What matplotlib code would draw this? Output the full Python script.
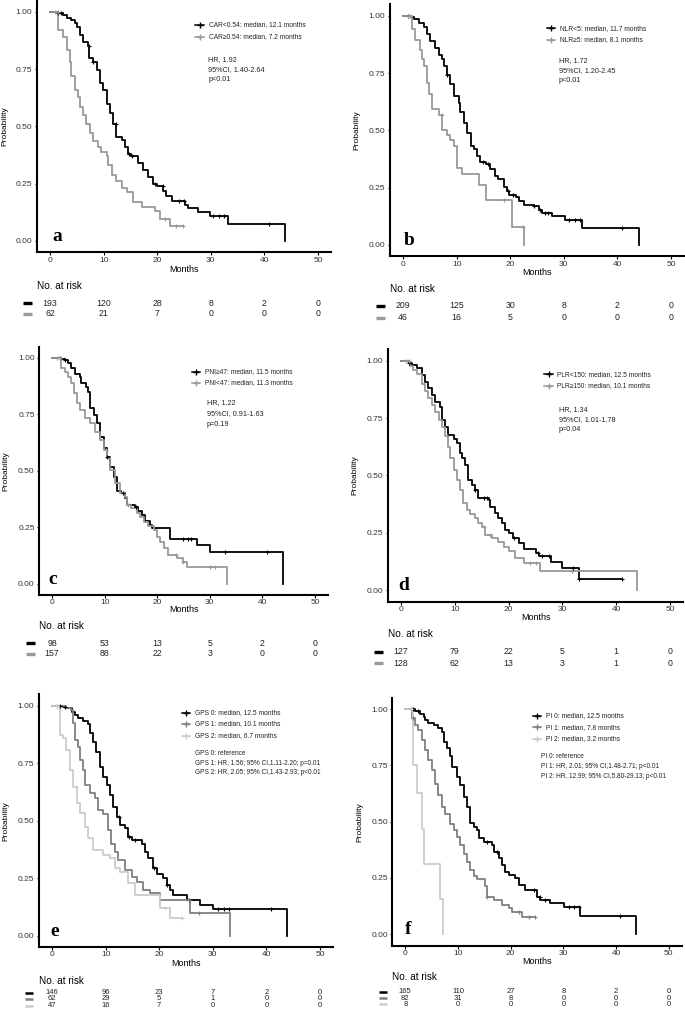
import numpy as np
import matplotlib
matplotlib.use('Agg')
import matplotlib.pyplot as plt
from matplotlib.lines import Line2D
from matplotlib.transforms import blended_transform_factory

plt.rcParams['font.family'] = ['Liberation Sans', 'DejaVu Sans']

# ---- data (months, survival probability) ----
x_ticks = [0, 10, 20, 30, 40, 50]

# a: CAR
a_low_t = [1.5, 2.5, 3.1, 4.0, 4.6, 5.0, 5.6, 6.2, 7.1, 7.3, 8.0, 8.7, 9.3, 9.9, 10.6, 11.2, 11.8, 12.4,
           13.4, 14.0, 14.5, 15.2, 16.5, 17.4, 18.3, 19.3, 19.9, 21.1, 21.7, 22.7, 25.2, 25.8, 27.6,
           29.8, 33.2, 43.8]
a_low_s = [0.995, 0.985, 0.975, 0.965, 0.95, 0.935, 0.90, 0.87, 0.85, 0.80, 0.78, 0.745, 0.69, 0.66,
           0.60, 0.557, 0.51, 0.456, 0.44, 0.41, 0.38, 0.37, 0.34, 0.31, 0.28, 0.25, 0.24, 0.22, 0.195,
           0.175, 0.158, 0.144, 0.126, 0.11, 0.075, 0.0]
a_low_end = 43.8
a_low_cens = [1.5, 2.0, 7.2, 8.0, 12.3, 14.8, 15.3, 19.5, 21.0, 24.0, 25.0, 30.5, 31.5, 32.5, 40.8]
a_high_t = [1.5, 2.5, 3.1, 3.7, 4.0, 4.7, 5.3, 5.6, 6.2, 6.8, 7.5, 8.1, 9.0, 9.6, 10.6, 10.9, 11.5,
            12.4, 13.4, 14.3, 15.5, 17.1, 19.6, 20.5, 22.4]
a_high_s = [0.92, 0.89, 0.835, 0.78, 0.72, 0.66, 0.63, 0.585, 0.55, 0.51, 0.47, 0.435, 0.41, 0.39,
            0.37, 0.33, 0.29, 0.26, 0.23, 0.216, 0.17, 0.15, 0.13, 0.096, 0.064]
a_high_end = 24.8
a_high_cens = [1.0, 1.4, 21.5, 23.5, 24.8]
a_labels = ['CAR<0.54: median, 12.1 months', 'CAR\u22650.54: median, 7.2 months']
a_stats = ['HR, 1.92', '95%CI, 1.40-2.64', 'p<0.01']
a_risk_low = [193, 120, 28, 8, 2, 0]
a_risk_high = [62, 21, 7, 0, 0, 0]

# b: NLR
b_low_t = [1.4, 2.0, 2.9, 3.9, 4.5, 5.1, 6.0, 6.7, 7.3, 7.6, 8.2, 8.8, 9.5, 10.4, 10.7, 11.3, 11.9,
           12.6, 13.2, 13.8, 14.4, 15.4, 16.3, 17.2, 17.8, 18.8, 19.4, 19.7, 21.0, 21.6, 22.5, 24.4,
           25.3, 25.9, 27.8, 30.3, 33.4, 44.0]
b_low_s = [0.995, 0.985, 0.97, 0.95, 0.92, 0.89, 0.86, 0.83, 0.81, 0.78, 0.74, 0.70, 0.65, 0.62, 0.58,
           0.53, 0.49, 0.43, 0.42, 0.39, 0.36, 0.355, 0.33, 0.30, 0.29, 0.255, 0.235, 0.22, 0.21, 0.19,
           0.175, 0.168, 0.154, 0.14, 0.125, 0.11, 0.072, 0.0]
b_low_end = 44.0
b_low_cens = [1.0, 8.3, 15.0, 15.8, 19.5, 20.5, 24.5, 25.5, 26.5, 27.0, 31.0, 32.0, 33.0, 40.8]
b_high_t = [1.7, 2.3, 3.2, 3.5, 4.0, 4.5, 4.8, 5.4, 6.7, 7.3, 8.2, 8.8, 9.5, 10.1, 11.0, 14.1, 15.4,
            20.3, 22.5]
b_high_s = [0.94, 0.895, 0.85, 0.81, 0.78, 0.705, 0.66, 0.595, 0.565, 0.50, 0.48, 0.46, 0.43, 0.335,
            0.31, 0.26, 0.195, 0.077, 0.0]
b_high_end = 22.5
b_high_cens = [1.0, 1.3, 7.2, 18.8, 22.3]
b_labels = ['NLR<5: median, 11.7 months', 'NLR\u22655: median, 8.1 months']
b_stats = ['HR, 1.72', '95%CI, 1.20-2.45', 'p<0.01']
b_risk_low = [209, 125, 30, 8, 2, 0]
b_risk_high = [46, 16, 5, 0, 0, 0]

# c: PNI
c_high_t = [1.8, 2.5, 3.1, 3.7, 4.4, 5.3, 5.6, 6.5, 6.9, 7.2, 7.9, 8.5, 9.1, 9.8, 10.4, 11.0, 11.7,
            12.3, 13.2, 13.9, 14.2, 15.8, 16.4, 17.1, 17.7, 18.6, 19.0, 22.4, 27.5, 30.0, 44.0]
c_high_s = [0.995, 0.99, 0.976, 0.954, 0.93, 0.917, 0.89, 0.873, 0.85, 0.777, 0.747, 0.71, 0.65, 0.60,
            0.563, 0.518, 0.474, 0.41, 0.40, 0.38, 0.35, 0.34, 0.32, 0.305, 0.28, 0.26, 0.245, 0.20,
            0.17, 0.139, 0.0]
c_high_end = 44.0
c_high_cens = [1.5, 2.5, 10.5, 13.5, 16.0, 25.0, 25.8, 26.5, 32.8, 40.8]
c_low_t = [1.7, 2.5, 3.1, 3.7, 4.1, 4.7, 5.3, 6.3, 7.2, 8.2, 9.1, 9.8, 10.4, 11.0, 12.0, 12.9, 13.9,
           14.2, 15.1, 16.1, 16.7, 17.4, 18.3, 19.3, 19.9, 20.5, 21.2, 22.1, 23.7, 25.0, 25.6, 33.2]
c_low_s = [0.954, 0.94, 0.917, 0.888, 0.843, 0.80, 0.77, 0.733, 0.71, 0.674, 0.637, 0.592, 0.555,
           0.504, 0.445, 0.40, 0.386, 0.35, 0.334, 0.312, 0.297, 0.275, 0.255, 0.238, 0.208, 0.186,
           0.157, 0.127, 0.112, 0.097, 0.075, 0.0]
c_low_end = 33.2
c_low_cens = [1.0, 1.5, 10.3, 14.5, 23.5, 25.0, 30.0, 31.0]
c_labels = ['PNI\u226547: median, 11.5 months', 'PNI<47: median, 11.3 months']
c_stats = ['HR, 1.22', '95%CI, 0.91-1.63', 'p=0.19']
c_risk_high = [98, 53, 13, 5, 2, 0]
c_risk_low = [157, 88, 22, 3, 0, 0]

# d: PLR
d_low_t = [1.4, 2.0, 2.9, 3.9, 4.5, 5.1, 5.7, 6.3, 7.3, 7.6, 8.2, 8.8, 9.8, 10.4, 11.0, 11.3, 11.9,
           12.5, 13.2, 13.8, 14.4, 16.3, 16.6, 17.5, 18.1, 18.8, 19.4, 20.0, 20.9, 21.9, 22.8, 25.0,
           25.6, 27.8, 29.9, 33.0]
d_low_s = [0.99, 0.98, 0.967, 0.937, 0.909, 0.88, 0.85, 0.82, 0.80, 0.742, 0.713, 0.676, 0.66, 0.64,
           0.60, 0.575, 0.545, 0.48, 0.458, 0.437, 0.40, 0.393, 0.364, 0.335, 0.313, 0.292, 0.263,
           0.248, 0.226, 0.205, 0.18, 0.161, 0.148, 0.125, 0.096, 0.049]
d_low_end = 41.1
d_low_cens = [1.5, 13.8, 15.5, 16.0, 21.0, 25.5, 26.3, 27.5, 32.0, 33.0, 41.1]
d_high_t = [1.7, 2.3, 2.9, 3.9, 4.5, 5.1, 5.7, 6.3, 7.0, 7.6, 8.2, 8.8, 9.1, 9.8, 10.4, 11.0, 11.6,
            12.2, 12.9, 13.8, 14.4, 15.0, 15.7, 16.9, 18.1, 19.1, 20.0, 21.2, 22.8, 25.9, 43.9]
d_high_s = [0.977, 0.96, 0.94, 0.90, 0.87, 0.836, 0.807, 0.778, 0.742, 0.713, 0.67, 0.625, 0.575,
            0.524, 0.48, 0.437, 0.38, 0.35, 0.332, 0.313, 0.292, 0.277, 0.24, 0.226, 0.212, 0.19,
            0.171, 0.139, 0.118, 0.086, 0.0]
d_high_end = 43.9
d_high_cens = [1.0, 1.5, 8.5, 15.5, 16.5, 24.0, 25.0, 31.8]
d_labels = ['PLR<150: median, 12.5 months', 'PLR\u2265150: median, 10.1 months']
d_stats = ['HR, 1.34', '95%CI, 1.01-1.78', 'p=0.04']
d_risk_low = [127, 79, 22, 5, 1, 0]
d_risk_high = [128, 62, 13, 3, 1, 0]

# e: GPS
e_gps0_t = [2.0, 2.7, 3.7, 4.3, 4.9, 5.8, 6.8, 7.1, 7.7, 8.3, 9.0, 9.6, 10.2, 10.8, 11.4, 12.1, 12.7,
            13.6, 14.2, 14.9, 16.7, 17.4, 18.0, 18.9, 19.5, 20.8, 21.4, 22.0, 22.6, 25.1, 27.6, 30.1,
            43.9]
e_gps0_s = [0.995, 0.988, 0.974, 0.96, 0.945, 0.933, 0.92, 0.88, 0.843, 0.80, 0.735, 0.69, 0.655,
            0.61, 0.56, 0.517, 0.48, 0.467, 0.43, 0.416, 0.40, 0.365, 0.336, 0.293, 0.27, 0.25, 0.22,
            0.20, 0.177, 0.155, 0.133, 0.115, 0.0]
e_gps0_end = 43.9
e_gps0_cens = [1.5, 2.5, 12.5, 14.3, 15.5, 19.0, 21.5, 25.5, 31.0, 32.0, 33.0, 40.8]
e_gps1_t = [2.5, 3.5, 4.0, 4.3, 4.9, 5.2, 5.8, 6.2, 7.1, 8.0, 8.6, 9.6, 10.5, 11.1, 11.8, 12.4, 13.6,
            14.9, 15.8, 17.0, 18.3, 20.1, 25.7, 33.2]
e_gps1_s = [0.99, 0.98, 0.923, 0.85, 0.82, 0.764, 0.72, 0.655, 0.62, 0.597, 0.546, 0.53, 0.46, 0.40,
            0.365, 0.33, 0.285, 0.256, 0.235, 0.20, 0.184, 0.155, 0.097, 0.0]
e_gps1_end = 33.2
e_gps1_cens = [1.0, 25.5, 27.5]
e_gps2_t = [1.5, 2.1, 2.7, 3.4, 4.0, 4.6, 5.2, 6.2, 6.8, 7.7, 9.6, 10.8, 11.8, 12.7, 14.2, 15.5,
            20.1, 22.0]
e_gps2_s = [0.872, 0.858, 0.807, 0.72, 0.648, 0.575, 0.533, 0.474, 0.423, 0.372, 0.35, 0.336, 0.293,
            0.278, 0.228, 0.177, 0.119, 0.075]
e_gps2_end = 24.2
e_gps2_cens = [1.0, 4.5, 21.0, 24.2]
e_labels = ['GPS 0: median, 12.5 months', 'GPS 1: median, 10.1 months', 'GPS 2: median, 6.7 months']
e_stats = ['GPS 0: reference', 'GPS 1: HR, 1.56; 95% CI,1.11-2.20; p=0.01',
           'GPS 2: HR, 2.05; 95% CI,1.43-2.93; p<0.01']
e_risk_gps0 = [146, 96, 23, 7, 2, 0]
e_risk_gps1 = [62, 29, 5, 1, 0, 0]
e_risk_gps2 = [47, 16, 7, 0, 0, 0]

# f: PI
f_pi0_t = [1.9, 2.8, 3.5, 3.8, 4.4, 5.4, 6.3, 7.0, 7.3, 7.9, 8.5, 8.9, 9.8, 10.4, 11.1, 11.7, 12.3,
           13.0, 13.6, 13.9, 14.9, 16.5, 16.8, 17.7, 18.4, 19.0, 19.6, 20.9, 21.5, 22.8, 25.0, 25.6,
           27.5, 30.1, 33.2, 43.7]
f_pi0_s = [0.993, 0.98, 0.966, 0.95, 0.94, 0.93, 0.915, 0.90, 0.855, 0.825, 0.79, 0.744, 0.70, 0.663,
           0.61, 0.567, 0.493, 0.478, 0.463, 0.426, 0.41, 0.396, 0.367, 0.337, 0.308, 0.278, 0.263,
           0.249, 0.219, 0.197, 0.167, 0.152, 0.138, 0.12, 0.081, 0.0]
f_pi0_end = 43.7
f_pi0_cens = [1.5, 2.5, 15.5, 17.5, 24.5, 25.5, 26.5, 31.0, 32.0, 33.0, 40.8]
f_pi1_t = [1.3, 1.9, 2.5, 3.2, 3.8, 4.4, 5.1, 5.7, 6.3, 7.0, 7.6, 8.5, 9.2, 9.8, 10.4, 11.1, 11.7,
           12.3, 13.0, 13.6, 15.2, 15.5, 16.8, 18.4, 19.6, 20.3, 22.2]
f_pi1_s = [0.96, 0.93, 0.907, 0.862, 0.818, 0.773, 0.728, 0.669, 0.617, 0.566, 0.536, 0.49, 0.462,
           0.432, 0.395, 0.358, 0.32, 0.284, 0.26, 0.246, 0.216, 0.167, 0.152, 0.13, 0.115, 0.10, 0.075]
f_pi1_end = 24.7
f_pi1_cens = [1.0, 1.5, 15.5, 21.5, 23.5, 24.7]
f_pi2_t = [1.4, 2.2, 3.2, 3.5, 6.5, 7.1]
f_pi2_s = [0.75, 0.625, 0.469, 0.3125, 0.156, 0.0]
f_pi2_end = 7.1
f_pi2_cens = [1.0]
f_labels = ['PI 0: median, 12.5 months', 'PI 1: median, 7.8 months', 'PI 2: median, 3.2 months']
f_stats = ['PI 0: reference', 'PI 1: HR, 2.01; 95% CI,1.48-2.71; p<0.01',
           'PI 2: HR, 12.99; 95% CI,5.80-29.13; p<0.01']
f_risk_pi0 = [165, 110, 27, 8, 2, 0]
f_risk_pi1 = [82, 31, 8, 0, 0, 0]
f_risk_pi2 = [8, 0, 0, 0, 0, 0]

BLACK = '#000000'
GREY = '#999999'
MID = '#808080'
LIGHT = '#cccccc'

W, H = 685, 1014
fig = plt.figure(figsize=(W / 100, H / 100), dpi=100)


def fx(px):
    return px / W


def fy(py):
    return 1 - py / H


def km_at(t, s, when):
    idx = np.searchsorted(t, when, side='right') - 1
    return np.where(idx < 0, 1.0, np.asarray(s)[np.clip(idx, 0, None)])


def draw_panel(geom, curves, letter, letter_x, labels, leg, stats, stats_pos, stat_size,
               risks, risk_pos, risk_size, ylab_x, months_y):
    x0, x50, y1, y0 = geom
    ux = (x50 - x0) / 50.0
    uy = y0 - y1
    left, right = x0 - 2.5 * ux, x50 + 2.5 * ux
    top, bottom = y1 - 0.05 * uy, y0 + 0.05 * uy
    ax = fig.add_axes([fx(left), fy(bottom), (right - left) / W, (bottom - top) / H])
    ax.set_xlim(-2.5, 52.5)
    ax.set_ylim(-0.05, 1.05)

    for t, s, end, cens, color in curves:
        xs = np.r_[0, t, end]
        ys = np.r_[1.0, s, s[-1]]
        ax.step(xs, ys, where='post', color=color, lw=1.3, zorder=3)
        ax.plot(cens, km_at(np.array(t), s, np.array(cens)), ls='none', marker='+',
                ms=3.5, mew=0.8, color=color, zorder=4)

    ax.set_xticks(x_ticks)
    ax.set_yticks([0, 0.25, 0.5, 0.75, 1.0])
    ax.set_yticklabels(['0.00', '0.25', '0.50', '0.75', '1.00'])
    ax.tick_params(labelsize=6, length=1.8, width=0.8, pad=1.2, colors='black', labelcolor='#333333')
    for side in ('top', 'right'):
        ax.spines[side].set_visible(False)
    for side in ('left', 'bottom'):
        ax.spines[side].set_linewidth(1.5)

    ax.text((letter_x - x0) / ux, 0.0, letter, fontsize=14, fontweight='bold',
            family='Liberation Serif', ha='left', va='baseline', zorder=5)

    fig.text(fx(ylab_x), fy((y1 + y0) / 2), 'Probability', rotation=90, fontsize=6,
             ha='center', va='center')
    fig.text(fx((x0 + x50) / 2), fy(months_y), 'Months', fontsize=6.5, ha='center', va='center')

    # legend
    hx0, hx1, tx, rows = leg
    for (c, lab, ry) in zip([cv[4] for cv in curves], labels, rows):
        fig.add_artist(Line2D([fx(hx0), fx(hx1)], [fy(ry), fy(ry)], color=c, lw=1.1))
        fig.add_artist(Line2D([fx((hx0 + hx1) / 2)], [fy(ry)], color=c, marker='+', ms=4, mew=1))
        fig.text(fx(tx), fy(ry), lab, fontsize=4.8, ha='left', va='center', color='#222222')
    sx, srows = stats_pos
    for line, ry in zip(stats, srows):
        fig.text(fx(sx), fy(ry), line, fontsize=stat_size, ha='left', va='center', color='#222222')

    # number at risk table
    nx, ny, dx0, dx1, rrows = risk_pos
    fig.text(fx(nx), fy(ny), 'No. at risk', fontsize=7.2, ha='left', va='center')
    tr = blended_transform_factory(ax.transData, fig.transFigure)
    dash_lw = 2.4 if len(risks) < 3 else 1.8
    for (c, vals, ry) in zip([cv[4] for cv in curves], risks, rrows):
        fig.add_artist(Line2D([fx(dx0), fx(dx1)], [fy(ry), fy(ry)], color=c, lw=dash_lw,
                              solid_capstyle='butt'))
        for xv, v in zip(x_ticks, vals):
            fig.text(xv, fy(ry), str(v), transform=tr, fontsize=risk_size, ha='center',
                     va='center', color='#222222')
    return ax


draw_panel((50, 318, 12, 241),
           [(a_low_t, a_low_s, a_low_end, a_low_cens, BLACK),
            (a_high_t, a_high_s, a_high_end, a_high_cens, GREY)],
           'a', 52, a_labels, (195, 204, 209, [25, 36.7]),
           a_stats, (208.3, [59.3, 69.3, 79.3]), 5.2,
           [a_risk_low, a_risk_high], (37, 286, 23, 32, [303, 314]), 6.3, 5, 269)

draw_panel((403, 671, 15.7, 245),
           [(b_low_t, b_low_s, b_low_end, b_low_cens, BLACK),
            (b_high_t, b_high_s, b_high_end, b_high_cens, GREY)],
           'b', 404, b_labels, (547, 555, 560, [28.3, 40]),
           b_stats, (559, [61, 71, 81]), 5.2,
           [b_risk_low, b_risk_high], (390, 289, 376, 385, [306, 318]), 6.3, 357, 273)

draw_panel((52, 315, 358, 583.7),
           [(c_high_t, c_high_s, c_high_end, c_high_cens, BLACK),
            (c_low_t, c_low_s, c_low_end, c_low_cens, GREY)],
           'c', 48, c_labels, (192, 200, 205, [371.7, 382.7]),
           c_stats, (206.7, [402.7, 414, 425]), 5.2,
           [c_risk_high, c_risk_low], (39, 626, 26, 35, [643, 654]), 6.3, 6, 610)

draw_panel((401, 670, 360.7, 590.3),
           [(d_low_t, d_low_s, d_low_end, d_low_cens, BLACK),
            (d_high_t, d_high_s, d_high_end, d_high_cens, GREY)],
           'd', 398, d_labels, (544, 553, 557, [374.3, 386]),
           d_stats, (558.7, [409.3, 419.3, 429.3]), 5.2,
           [d_risk_low, d_risk_high], (388, 634, 374, 383, [652, 663]), 6.3, 355, 618)

draw_panel((52, 320, 705.7, 935.7),
           [(e_gps0_t, e_gps0_s, e_gps0_end, e_gps0_cens, BLACK),
            (e_gps1_t, e_gps1_s, e_gps1_end, e_gps1_cens, MID),
            (e_gps2_t, e_gps2_s, e_gps2_end, e_gps2_cens, LIGHT)],
           'e', 50, e_labels, (182, 190, 195, [712.7, 724, 735.7]),
           e_stats, (195, [753.3, 763.3, 772]), 4.7,
           [e_risk_gps0, e_risk_gps1, e_risk_gps2], (39, 980.5, 25, 33, [993, 999, 1005.5]), 5.5,
           6, 963)

draw_panel((405.3, 668.7, 709, 934.3),
           [(f_pi0_t, f_pi0_s, f_pi0_end, f_pi0_cens, BLACK),
            (f_pi1_t, f_pi1_s, f_pi1_end, f_pi1_cens, MID),
            (f_pi2_t, f_pi2_s, f_pi2_end, f_pi2_cens, LIGHT)],
           'f', 405, f_labels, (533, 541, 546, [716, 727.3, 738.7]),
           f_stats, (541.3, [756.7, 766.3, 776]), 4.7,
           [f_risk_pi0, f_risk_pi1, f_risk_pi2], (392, 977, 379, 387, [991.7, 998, 1004.3]), 5.5,
           360, 961.7)

fig.savefig('out.png', dpi=100)
